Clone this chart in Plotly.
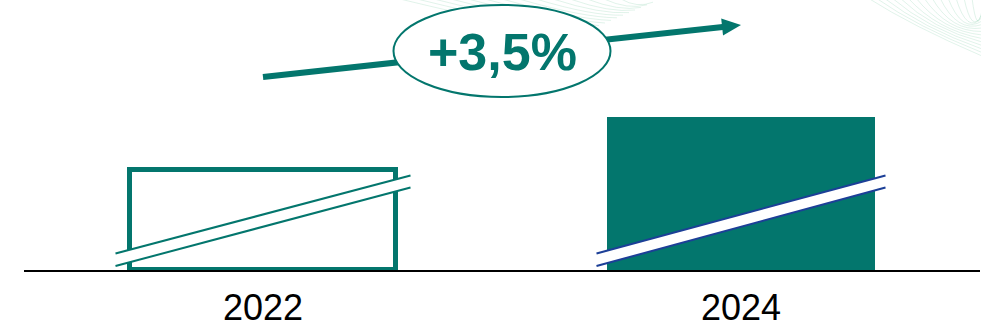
import plotly.graph_objects as go
import math

# ---- data ----
years = ["2022", "2024"]
x_pos = [0, 1]
bar_values = [100, 153]          # displayed heights (broken axis)
growth_label = "+3,5%"

TEAL = "#03766D"
BLUE = "#1C3F97"
FONT = "Liberation Sans, Arial, sans-serif"

W, H = 981, 327
ML, MR, MT, MB = 24, 1, 0, 57
PW, PH = W - ML - MR, H - MT - MB
YMAX = 270
XR = (-0.5, 1.5)

def px_x(dx_px):
    return dx_px / PW * (XR[1] - XR[0])

fig = go.Figure()
fig.add_trace(go.Bar(
    x=[x_pos[0]], y=[bar_values[0]], width=0.557,
    marker=dict(color="white", line=dict(color=TEAL, width=5)),
    hoverinfo="skip", showlegend=False))
fig.add_trace(go.Bar(
    x=[x_pos[1]], y=[bar_values[1]], width=0.559,
    marker=dict(color=TEAL, line=dict(width=0)),
    hoverinfo="skip", showlegend=False))

shapes = []

# ---- faint guilloche decoration (paper coords) ----
def pp(px, py):
    return (px - ML) / PW, (H - MB - py) / PH

deco = "rgba(120,200,160,0.22)"
for k in range(14):
    x0, y0 = pp(400 + k * 17, -1)
    cx, cy = pp(520 + k * 9, 28 - k * 1.5)
    x1, y1 = pp(575 + k * 6, 36 - k * 2.6)
    shapes.append(dict(type="path", xref="paper", yref="paper", layer="below",
                       path=f"M{x0},{y0} Q{cx},{cy} {x1},{y1}",
                       line=dict(color=deco, width=1)))
for k in range(14):
    x0, y0 = pp(868 + k * 8, -2)
    cx, cy = pp(912 + k * 5, 26 + k * 0.8)
    x1, y1 = pp(982, 56 - k * 3.5)
    shapes.append(dict(type="path", xref="paper", yref="paper", layer="below",
                       path=f"M{x0},{y0} Q{cx},{cy} {x1},{y1}",
                       line=dict(color=deco, width=1)))

# ---- growth arrow from bar centre to bar centre ----
ay0, ay1 = 193, 245
shapes.append(dict(type="line", xref="x", yref="y",
                   x0=x_pos[0], y0=ay0, x1=x_pos[1] - px_x(16), y1=ay1 - 16 * 52 / 480,
                   line=dict(color=TEAL, width=6)))
ang = math.atan2(52, 480)
L, Hh = 19, 8.5
bx, by = -L * math.cos(ang), -L * math.sin(ang)
p1 = (bx - Hh * math.sin(ang), by + Hh * math.cos(ang))
p2 = (bx + Hh * math.sin(ang), by - Hh * math.cos(ang))
def d2x(p):
    return x_pos[1] + px_x(p[0]), ay1 + p[1]
t = d2x((0, 0)); a = d2x(p1); b = d2x(p2)
shapes.append(dict(type="path", xref="x", yref="y",
                   path=f"M{t[0]},{t[1]} L{a[0]},{a[1]} L{b[0]},{b[1]} Z",
                   fillcolor=TEAL, line=dict(width=0)))

# ---- ellipse with label ----
shapes.append(dict(type="circle", xref="x", yref="y",
                   x0=0.5 - px_x(108.5), x1=0.5 + px_x(108.5), y0=173, y1=265,
                   fillcolor="white", line=dict(color=TEAL, width=2)))

# ---- axis break marks ----
def break_mark(xc, color, half_w):
    dx = px_x(half_w)
    lo0, lo1, hi0, hi1 = 4, 82.5, 16.5, 94.5
    s = [dict(type="path", xref="x", yref="y",
              path=f"M{xc-dx},{lo0} L{xc+dx},{lo1} L{xc+dx},{hi1} L{xc-dx},{hi0} Z",
              fillcolor="white", line=dict(width=0))]
    for a0, a1 in ((lo0, lo1), (hi0, hi1)):
        s.append(dict(type="line", xref="x", yref="y", x0=xc - dx, x1=xc + dx,
                      y0=a0, y1=a1, line=dict(color=color, width=2)))
    return s

shapes += break_mark(x_pos[0], TEAL, 147.5)
shapes += break_mark(x_pos[1], BLUE, 144.5)

fig.update_layout(
    width=W, height=H,
    margin=dict(l=ML, r=MR, t=MT, b=MB, pad=0, autoexpand=False),
    paper_bgcolor="white", plot_bgcolor="white",
    bargap=0, showlegend=False,
    shapes=shapes,
    annotations=[dict(x=0.5, y=218, xref="x", yref="y", text=f"<b>{growth_label}</b>",
                      showarrow=False, font=dict(family=FONT, size=52, color=TEAL))],
    xaxis=dict(range=list(XR), tickvals=x_pos, ticktext=years, showgrid=False,
               zeroline=False, showline=True, linecolor="black", linewidth=2,
               ticks="", tickfont=dict(family=FONT, size=36, color="black"),
               automargin=False, ticklabelstandoff=5, fixedrange=True),
    yaxis=dict(range=[0, YMAX], visible=False, showgrid=False, zeroline=False,
               automargin=False, fixedrange=True),
)

fig.write_html("out.html", config={"displayModeBar": False},
               post_script="document.body.style.margin='0';document.body.style.overflow='hidden';")
